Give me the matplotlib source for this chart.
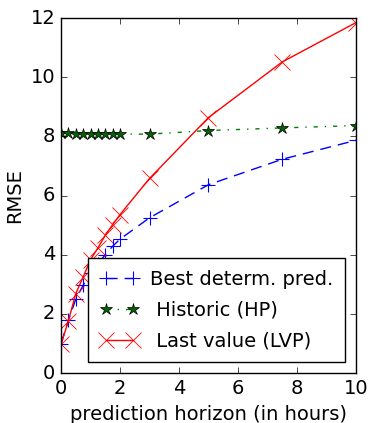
import matplotlib
matplotlib.use('Agg')
import matplotlib.pyplot as plt

plt.style.use('classic')
plt.rcParams['font.family'] = 'DejaVu Sans'
plt.rcParams['font.size'] = 14

# prediction horizon (hours)
horizon = [0, 0.25, 0.5, 0.75, 1.0, 1.25, 1.5, 1.75, 2.0, 3.0, 5.0, 7.5, 10.0]

# RMSE values
rmse_best = [1.0, 1.79, 2.5, 2.97, 3.39, 3.7, 4.0, 4.29, 4.53, 5.25, 6.37, 7.23, 7.87]
rmse_hp = [8.12, 8.11, 8.1, 8.1, 8.1, 8.09, 8.09, 8.08, 8.08, 8.08, 8.2, 8.29, 8.37]
rmse_lvp = [0.97, 1.77, 2.69, 3.25, 3.84, 4.23, 4.66, 5.02, 5.36, 6.58, 8.64, 10.52, 11.85]

fig = plt.figure(figsize=(3.7, 4.23), dpi=100)
ax = fig.add_axes([0.165, 0.118, 0.797, 0.839])

ax.plot(horizon, rmse_best, color='b', linestyle='--', dashes=(8, 5), marker='+',
        markersize=10, markeredgewidth=0.8, label='Best determ. pred.')
ax.plot(horizon, rmse_hp, color='g', linestyle='-.', marker='*',
        markersize=9, markerfacecolor='#006400', markeredgecolor='k',
        markeredgewidth=0.5, label=' Historic (HP)')
ax.plot(horizon, rmse_lvp, color='r', linestyle='-', marker='x',
        markersize=11, markeredgewidth=0.6, label=' Last value (LVP)')

ax.set_xlim(0, 10)
ax.set_ylim(0, 12)
ax.set_xticks([0, 2, 4, 6, 8, 10])
ax.set_yticks([0, 2, 4, 6, 8, 10, 12])
ax.set_xlabel('prediction horizon (in hours)')
ax.set_ylabel('RMSE')

ax.legend(loc='lower right', numpoints=2, fontsize=14, handlelength=2,
          borderpad=0.62, labelspacing=0.6, handletextpad=0.55,
          borderaxespad=0.55)

fig.savefig('out.png', dpi=100)
